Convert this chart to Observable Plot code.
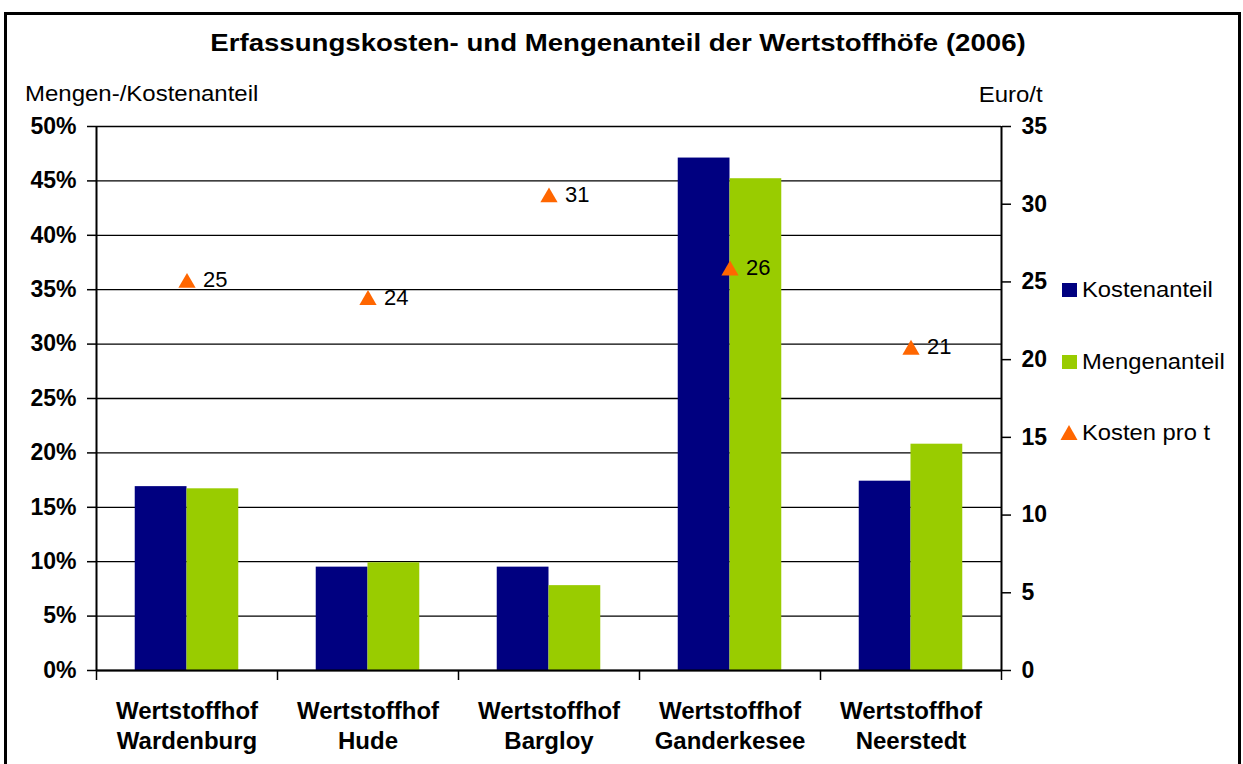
<!DOCTYPE html>
<html>
<head>
<meta charset="utf-8">
<script src="https://cdn.jsdelivr.net/npm/d3@7"></script>
<script src="https://cdn.jsdelivr.net/npm/@observablehq/plot@0.6"></script>
<style>
  html, body { margin: 0; padding: 0; background: #fff; }
  #chart { position: relative; width: 1243px; height: 764px; overflow: hidden; background: #fff;
           font-family: "Liberation Sans", Arial, sans-serif; color: #000; }
  #frame { position: absolute; left: 4px; top: 12px; width: 1237px; height: 800px;
           border: 3px solid #000; box-sizing: border-box; pointer-events: none; }
  .lbl { position: absolute; line-height: 1; white-space: nowrap; }
  #title { left: 0; width: 1236px; top: 31px; text-align: center; font-size: 24px; font-weight: bold;
           transform: scaleX(1.15); transform-origin: 618px 0; }
  #ylab { left: 25px; top: 83px; font-size: 22px; transform: scaleX(1.09); transform-origin: 0 0; }
  #y2lab { right: 200px; top: 84px; font-size: 22px; transform: scaleX(1.09); transform-origin: 100% 0; }
  .leg { position: absolute; left: 1062px; font-size: 22px; line-height: 1; white-space: nowrap; }
  .leg .txt { position: absolute; left: 20px; top: 0; transform: scaleX(1.08); transform-origin: 0 0; }
  .sw { position: absolute; left: 0; width: 15px; height: 14px; }
  #plot { position: absolute; left: 0; top: 0; }
</style>
</head>
<body>
<div id="chart">
  <div id="plot"></div>
  <div id="title" class="lbl">Erfassungskosten- und Mengenanteil der Wertstoffhöfe (2006)</div>
  <div id="ylab" class="lbl">Mengen-/Kostenanteil</div>
  <div id="y2lab" class="lbl">Euro/t</div>
  <div id="legend"></div>
  <div id="frame"></div>
</div>
<script>
// ---- data ----
const categories = ["Wertstoffhof\nWardenburg", "Wertstoffhof\nHude", "Wertstoffhof\nBargloy", "Wertstoffhof\nGanderkesee", "Wertstoffhof\nNeerstedt"];
const kostenanteil = [0.169, 0.095, 0.095, 0.471, 0.174];
const mengenanteil = [0.167, 0.099, 0.078, 0.452, 0.208];
const kostenProT = [25.1, 24.0, 30.6, 25.9, 20.8];
const leftTicks = [0, 0.05, 0.10, 0.15, 0.20, 0.25, 0.30, 0.35, 0.40, 0.45, 0.50];
const leftTickLabels = ["0%", "5%", "10%", "15%", "20%", "25%", "30%", "35%", "40%", "45%", "50%"];
const rightTicks = [0, 5, 10, 15, 20, 25, 30, 35];
const seriesNames = ["Kostenanteil", "Mengenanteil", "Kosten pro t"];
const seriesColors = ["#000080", "#99CC00", "#FF6600"];

const rightMax = 35, leftMax = 0.5;
const toLeft = v => v * leftMax / rightMax;

const rows = categories.map((c, i) => ({
  i, cat: c, k: kostenanteil[i], m: mengenanteil[i], e: kostenProT[i], ey: toLeft(kostenProT[i])
}));

const plot = Plot.plot({
  width: 1243,
  height: 764,
  marginLeft: 96,
  marginRight: 242,
  marginTop: 126,
  marginBottom: 94,
  style: { fontFamily: "Liberation Sans, Arial, sans-serif", fontSize: "23px", color: "#000", background: "transparent" },
  x: { domain: [0, categories.length], axis: null },
  y: { domain: [0, leftMax], axis: null },
  marks: [
    Plot.ruleY(leftTicks, { stroke: "#000", strokeWidth: 1.3 }),
    Plot.rectY(rows, { x1: d => d.i + 0.214, x2: d => d.i + 0.5, y1: 0, y2: "k", fill: seriesColors[0] }),
    Plot.rectY(rows, { x1: d => d.i + 0.5, x2: d => d.i + 0.786, y1: 0, y2: "m", fill: seriesColors[1] }),
    Plot.dot(rows, { x: d => d.i + 0.5, y: "ey", symbol: "triangle", r: 6.4, dy: 2.5, fill: seriesColors[2], stroke: "none" }),
    Plot.text(rows, { x: d => d.i + 0.5, y: "ey", text: d => d3.format(".0f")(d.e), dx: 16, textAnchor: "start", fontSize: 22, fill: "#000" }),
    Plot.ruleX([0, categories.length], { stroke: "#000", strokeWidth: 2 }),
    Plot.ruleY([0], { stroke: "#000", strokeWidth: 2 }),
    Plot.axisY(leftTicks, { anchor: "left", tickSize: 9, tickPadding: 11, tickFormat: d => leftTickLabels[leftTicks.indexOf(d)], fontWeight: "bold", fontSize: 23, stroke: "#000", strokeWidth: 1.5 }),
    Plot.axisY(rightTicks.map(toLeft), { anchor: "right", tickSize: 9, tickPadding: 11, tickFormat: d => d3.format(".0f")(d * rightMax / leftMax), fontWeight: "bold", fontSize: 23, stroke: "#000", strokeWidth: 1.5 }),
    Plot.axisX(d3.range(0, categories.length + 1), { anchor: "bottom", tickSize: 10, tickFormat: () => "", stroke: "#000", strokeWidth: 1.5 }),
    Plot.text(rows, { x: d => d.i + 0.5, y: 0, text: "cat", lineAnchor: "top", lineHeight: 1.22, dy: 28, fontWeight: "bold", fontSize: 24, fill: "#000" })
  ]
});
document.getElementById("plot").appendChild(plot);

// ---- legend ----
const legend = document.getElementById("legend");
const legTops = [279, 351, 422];
seriesNames.forEach((name, i) => {
  const item = document.createElement("div");
  item.className = "leg";
  item.style.top = legTops[i] + "px";
  let sw;
  if (i < 2) {
    sw = `<div class="sw" style="top:4px;background:${seriesColors[i]}"></div>`;
  } else {
    sw = `<svg class="sw" style="top:2px;left:-2px;width:18px;height:17px;overflow:visible" viewBox="0 0 18 17"><path d="M9 1 L17.5 16 L0.5 16 Z" fill="${seriesColors[i]}"/></svg>`;
  }
  item.innerHTML = sw + `<span class="txt">${name}</span>`;
  legend.appendChild(item);
});
</script>
</body>
</html>
